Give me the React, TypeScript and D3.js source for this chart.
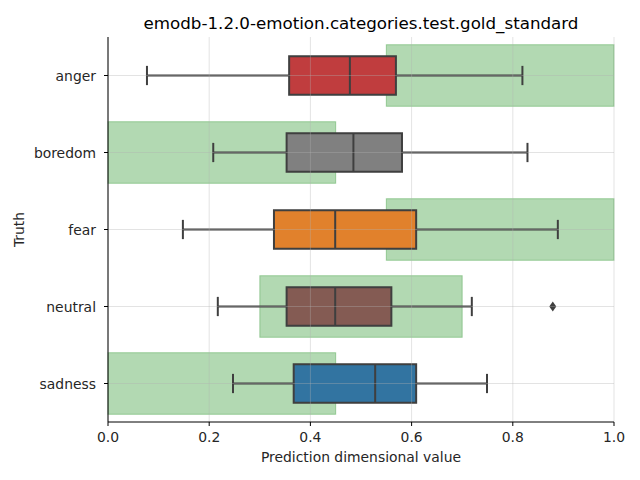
import React from 'react';
import * as d3 from 'd3';

const categories = ['anger', 'boredom', 'fear', 'neutral', 'sadness'];
const whiskerLow = [0.077, 0.208, 0.148, 0.217, 0.247];
const q1 = [0.358, 0.353, 0.328, 0.353, 0.367];
const median = [0.478, 0.485, 0.449, 0.449, 0.528];
const q3 = [0.569, 0.581, 0.609, 0.560, 0.609];
const whiskerHigh = [0.819, 0.829, 0.889, 0.719, 0.749];
const outliers: [string, number][] = [['neutral', 0.879]];
const boxColors = ['#c03d3e', '#808080', '#e1812c', '#845b53', '#3274a1'];
// expected range per category (green bands)
const goldLow = [0.55, 0.0, 0.55, 0.3, 0.0];
const goldHigh = [1.0, 0.45, 1.0, 0.7, 0.45];
const xTicks = [0, 0.2, 0.4, 0.6, 0.8, 1.0];

const W = 640, H = 480;
const margin = { top: 37, right: 26, bottom: 58, left: 108 };
const font = 'DejaVu Sans, sans-serif';

export default function App() {
  const x = d3.scaleLinear().domain([0, 1]).range([margin.left, W - margin.right]);
  const y = d3.scaleBand().domain(categories).range([margin.top, H - margin.bottom]);
  const bw = y.bandwidth();
  const boxH = bw * 0.5;
  const stroke = '#3f3f3f';

  return (
    <svg width={W} height={H} style={{ display: 'block', margin: -8 }} fontFamily={font}>
      <rect width={W} height={H} fill="white" />
      {/* gold standard ranges */}
      {categories.map((c, i) => (
        <rect key={'g' + c}
          x={x(goldLow[i])} width={x(goldHigh[i]) - x(goldLow[i])}
          y={y(c)! + bw * 0.1} height={bw * 0.8}
          fill="green" fillOpacity={0.3} stroke="green" strokeOpacity={0.3} strokeWidth={1} />
      ))}
      {/* boxes */}
      {categories.map((c, i) => {
        const cy = y(c)! + bw / 2;
        return (
          <g key={'b' + c} stroke={stroke} strokeWidth={2}>
            <line x1={x(whiskerLow[i])} x2={x(q1[i])} y1={cy} y2={cy} />
            <line x1={x(q3[i])} x2={x(whiskerHigh[i])} y1={cy} y2={cy} />
            <line x1={x(whiskerLow[i])} x2={x(whiskerLow[i])} y1={cy - boxH / 4} y2={cy + boxH / 4} />
            <line x1={x(whiskerHigh[i])} x2={x(whiskerHigh[i])} y1={cy - boxH / 4} y2={cy + boxH / 4} />
            <rect x={x(q1[i])} width={x(q3[i]) - x(q1[i])} y={cy - boxH / 2} height={boxH} fill={boxColors[i]} />
            <line x1={x(median[i])} x2={x(median[i])} y1={cy - boxH / 2} y2={cy + boxH / 2} />
          </g>
        );
      })}
      {outliers.map(([c, v], i) => {
        const cy = y(c)! + bw / 2;
        const px = x(v);
        return <path key={'o' + i} d={`M${px},${cy - 5} L${px + 3.5},${cy} L${px},${cy + 5} L${px - 3.5},${cy} Z`} fill={stroke} />;
      })}
      {/* grid on top */}
      <g stroke="#b0b0b0" strokeOpacity={0.45} strokeWidth={0.8}>
        {xTicks.map(t => <line key={'vx' + t} x1={x(t)} x2={x(t)} y1={margin.top} y2={H - margin.bottom} />)}
        {categories.map(c => <line key={'hy' + c} x1={margin.left} x2={W - margin.right} y1={y(c)! + bw / 2} y2={y(c)! + bw / 2} />)}
      </g>
      {/* axes */}
      <g stroke="black" strokeWidth={1}>
        <line x1={margin.left} x2={margin.left} y1={margin.top} y2={H - margin.bottom} />
        <line x1={margin.left} x2={W - margin.right} y1={H - margin.bottom} y2={H - margin.bottom} />
        {xTicks.map(t => <line key={'tx' + t} x1={x(t)} x2={x(t)} y1={H - margin.bottom} y2={H - margin.bottom + 4} />)}
        {categories.map(c => <line key={'ty' + c} x1={margin.left - 4} x2={margin.left} y1={y(c)! + bw / 2} y2={y(c)! + bw / 2} />)}
      </g>
      <g fontSize={13.9} fill="#262626">
        {xTicks.map(t => (
          <text key={'lx' + t} x={x(t)} y={H - margin.bottom + 19.5} textAnchor="middle">{t.toFixed(1)}</text>
        ))}
        {categories.map(c => (
          <text key={'ly' + c} x={margin.left - 12} y={y(c)! + bw / 2 + 5} textAnchor="end">{c}</text>
        ))}
        <text x={(x(0) + x(1)) / 2} y={462} textAnchor="middle">Prediction dimensional value</text>
        <text transform={`translate(24,${(margin.top + H - margin.bottom) / 2}) rotate(-90)`} textAnchor="middle">Truth</text>
      </g>
      <text x={(x(0) + x(1)) / 2} y={29} textAnchor="middle" fontSize={16.7} fill="black">
        emodb-1.2.0-emotion.categories.test.gold_standard
      </text>
    </svg>
  );
}
